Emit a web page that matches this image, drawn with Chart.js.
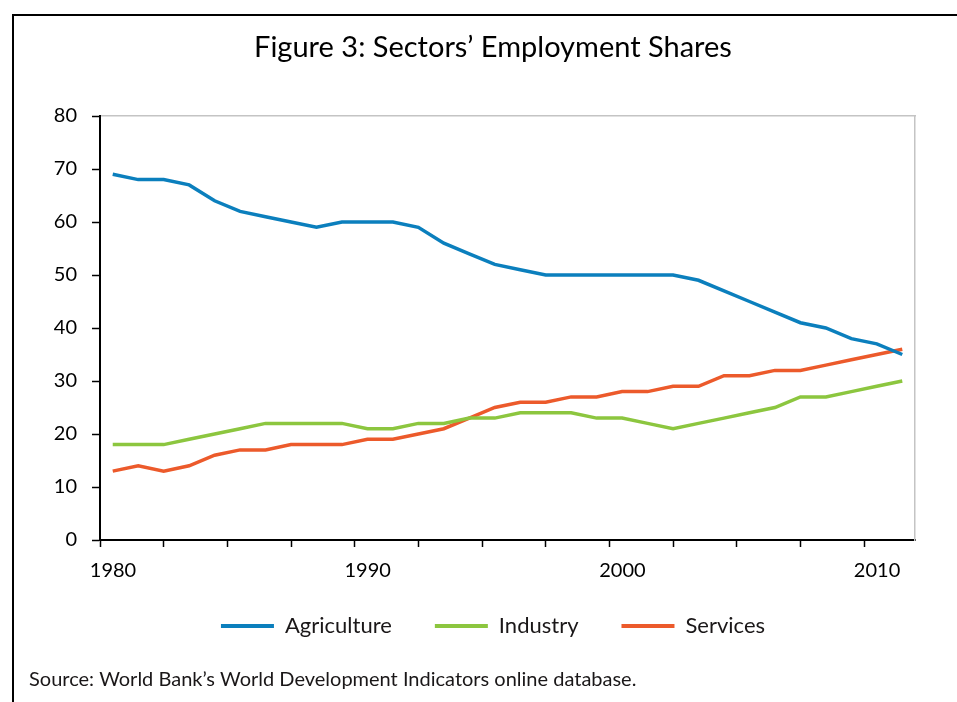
<!DOCTYPE html>
<html>
<head>
<meta charset="utf-8">
<script src="https://cdn.jsdelivr.net/npm/chart.js@4.4.1/dist/chart.umd.min.js"></script>
<style>
    html, body { margin: 0; padding: 0; background: #fff; overflow: hidden; }
    body { width: 957px; height: 702px; position: relative; }
    #frame {
        position: absolute; left: 12px; top: 14px; right: -4px; bottom: -4px;
        border-top: 2px solid #000; border-left: 2px solid #000;
    }
    #wrap { position: absolute; left: 26px; top: 16px; width: 931px; height: 686px; }
</style>
</head>
<body>
<div id="frame"></div>
<div id="wrap"><canvas id="my-chart"></canvas></div>
<script>
const years = [1980, 1981, 1982, 1983, 1984, 1985, 1986, 1987, 1988, 1989,
    1990, 1991, 1992, 1993, 1994, 1995, 1996, 1997, 1998, 1999,
    2000, 2001, 2002, 2003, 2004, 2005, 2006, 2007, 2008, 2009, 2010, 2011];
const agriculture = [69, 68, 68, 67, 64, 62, 61, 60, 59, 60,
    60, 60, 59, 56, 54, 52, 51, 50, 50, 50,
    50, 50, 50, 49, 47, 45, 43, 41, 40, 38, 37, 35];
const industry = [18, 18, 18, 19, 20, 21, 22, 22, 22, 22,
    21, 21, 22, 22, 23, 23, 24, 24, 24, 23,
    23, 22, 21, 22, 23, 24, 25, 27, 27, 28, 29, 30];
const services = [13, 14, 13, 14, 16, 17, 17, 18, 18, 18,
    19, 19, 20, 21, 23, 25, 26, 26, 27, 27,
    28, 28, 29, 29, 31, 31, 32, 32, 33, 34, 35, 36];
const yearLabels = ['1980', '1990', '2000', '2010'];
const yTicks = [0, 10, 20, 30, 40, 50, 60, 70, 80];

const fontName = 'Lato, "Open Sans", sans-serif';
const textColor = '#1a1718';

function toPoints(values) {
    return years.map((year, i) => ({ x: year, y: values[i] }));
}

function makeSeries(label, values, color) {
    return {
        label: label,
        data: toPoints(values),
        borderColor: color,
        backgroundColor: color,
        borderWidth: 3.5,
        pointRadius: 0,
        tension: 0,
        fill: false
    };
}

// legend entries: a flat bar for the line, en space after the text to widen the gap
function legendItems(chart) {
    const sets = chart.data.datasets;
    return sets.map((ds, i) => ({
        text: i < sets.length - 1 ? ds.label + '\u2002' : ds.label,
        fillStyle: ds.borderColor,
        strokeStyle: ds.borderColor,
        lineWidth: 0,
        fontColor: textColor,
        hidden: false,
        datasetIndex: i
    }));
}

const ctx = document.getElementById('my-chart').getContext('2d');
const myChart = new Chart(ctx, {
    type: 'line',
    data: {
        datasets: [
            makeSeries('Agriculture', agriculture, '#0b7fbd'),
            makeSeries('Industry', industry, '#8cc63f'),
            makeSeries('Services', services, '#ec5a2b')
        ]
    },
    options: {
        responsive: true,
        maintainAspectRatio: false,
        animation: false,
        layout: { padding: { left: 3, right: 0, top: 0, bottom: 0 } },
        plugins: {
            tooltip: { enabled: false },
            title: {
                display: true,
                text: 'Figure 3: Sectors\u2019 Employment Shares',
                color: '#000',
                font: { family: fontName, size: 29, weight: 'normal' },
                padding: { top: 14.6, bottom: 50.6 }
            },
            subtitle: {
                display: true,
                position: 'bottom',
                align: 'start',
                text: 'Source: World Bank\u2019s World Development Indicators online database.',
                color: textColor,
                font: { family: fontName, size: 20, weight: 'normal' },
                padding: { top: 21, bottom: 10 }
            },
            legend: {
                position: 'bottom',
                labels: {
                    boxWidth: 53,
                    boxHeight: 4,
                    padding: 32,
                    color: textColor,
                    font: { family: fontName, size: 22 },
                    generateLabels: legendItems
                }
            }
        },
        scales: {
            x: {
                type: 'linear',
                position: 'bottom',
                min: 1979.5,
                max: 2011.5,
                afterBuildTicks: (scale) => {
                    const ticks = [];
                    for (let v = 1979.5; v <= 2011.5; v += 2.5) ticks.push({ value: v });
                    scale.ticks = ticks;
                },
                afterFit: (scale) => { scale.height = 43; },
                ticks: {
                    autoSkip: false,
                    maxRotation: 0,
                    padding: 12,
                    labelOffset: 13,
                    color: '#000',
                    font: { family: fontName, size: 20 },
                    callback: (value) => {
                        const lbl = String(value + 0.5);
                        return yearLabels.includes(lbl) ? lbl : '';
                    }
                },
                grid: { display: true, drawOnChartArea: false, tickLength: 7, tickColor: '#000', tickWidth: 1.5 },
                border: { display: true, color: '#000', width: 2 }
            },
            xTop: {
                type: 'linear',
                position: 'top',
                min: 1979.5,
                max: 2011.5,
                ticks: { display: false },
                grid: { display: false, drawTicks: false },
                border: { display: true, color: '#c4c4c4', width: 1.5 }
            },
            y: {
                min: 0,
                max: 80,
                afterBuildTicks: (scale) => {
                    scale.ticks = yTicks.map(v => ({ value: v }));
                },
                afterFit: (scale) => { scale.width = 71; },
                ticks: {
                    padding: 15,
                    color: '#000',
                    font: { family: fontName, size: 20 }
                },
                grid: { display: true, drawOnChartArea: false, tickLength: 8, tickColor: '#000', tickWidth: 1.5 },
                border: { display: true, color: '#000', width: 2 }
            },
            yRight: {
                position: 'right',
                min: 0,
                max: 80,
                afterFit: (scale) => { scale.width = 42; },
                ticks: { display: false },
                grid: { display: false, drawTicks: false },
                border: { display: true, color: '#c4c4c4', width: 1.5 }
            }
        }
    }
});
</script>
</body>
</html>
